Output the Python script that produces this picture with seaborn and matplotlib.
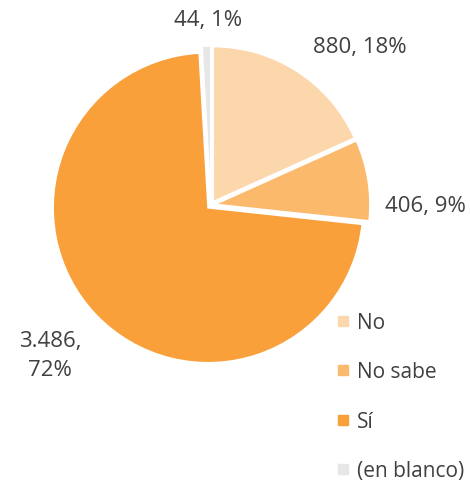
import matplotlib
matplotlib.use("Agg")
import matplotlib.pyplot as plt
from matplotlib.lines import Line2D
import seaborn as sns
import numpy as np

# Respuestas y conteos
categories = ["No", "No sabe", "Sí", "(en blanco)"]
counts = [880, 406, 3486, 44]
colors = ["#FDD7AC", "#FBB96C", "#F9A03A", "#E7E7E7"]

# Posiciones de las etiquetas (coordenadas del gráfico, radio = 1)
label_xy = [(0.961, 1.020), (1.381, -0.006), (-1.039, -0.968), (-0.019, 1.200)]

sns.set_theme(style="white")
plt.rcParams["font.family"] = ["Open Sans", "DejaVu Sans"]

text_color = "#404040"
fig = plt.figure(figsize=(4.70, 4.81), dpi=100)
ax = fig.add_axes([0, 0, 1, 1])

wedges, _ = ax.pie(
    counts,
    colors=colors,
    startangle=90,
    counterclock=False,
    radius=1.0,
    explode=[0.026] * len(counts),
    wedgeprops=dict(edgecolor="white", linewidth=1.2),
)


def percentages(values):
    # porcentajes enteros que suman 100 (mayor resto)
    total = sum(values)
    raw = [100 * v / total for v in values]
    base = [int(np.floor(r)) for r in raw]
    rest = 100 - sum(base)
    order = sorted(range(len(raw)), key=lambda i: raw[i] - base[i], reverse=True)
    for i in order[:rest]:
        base[i] += 1
    return base


def fmt_count(n):
    return f"{n:,}".replace(",", ".")


for n, pct, (lx, ly) in zip(counts, percentages(counts), label_xy):
    if n >= 1000:
        txt = f"{fmt_count(n)},\n{pct}%"
    else:
        txt = f"{fmt_count(n)}, {pct}%"
    ax.text(lx, ly, txt, ha="center", va="center", fontsize=16,
            color=text_color, linespacing=1.55)

handles = [Line2D([0], [0], marker="s", linestyle="none", markersize=6.5,
                  markerfacecolor=c, markeredgecolor=c) for c in colors]
leg = ax.legend(handles, categories, loc="upper left",
                bbox_to_anchor=(0.7156, 0.349), frameon=False,
                fontsize=15, labelspacing=1.36, handlelength=0.62,
                handletextpad=0.36, borderaxespad=0, borderpad=0)
for t in leg.get_texts():
    t.set_color(text_color)

R = 155.0
cx, cy = 211.0, 206.0
ax.set_aspect("auto")
ax.set_xlim(-cx / R, (470 - cx) / R)
ax.set_ylim(-(481 - cy) / R, cy / R)
ax.axis("off")

fig.savefig("out.png", dpi=100, facecolor="white")
